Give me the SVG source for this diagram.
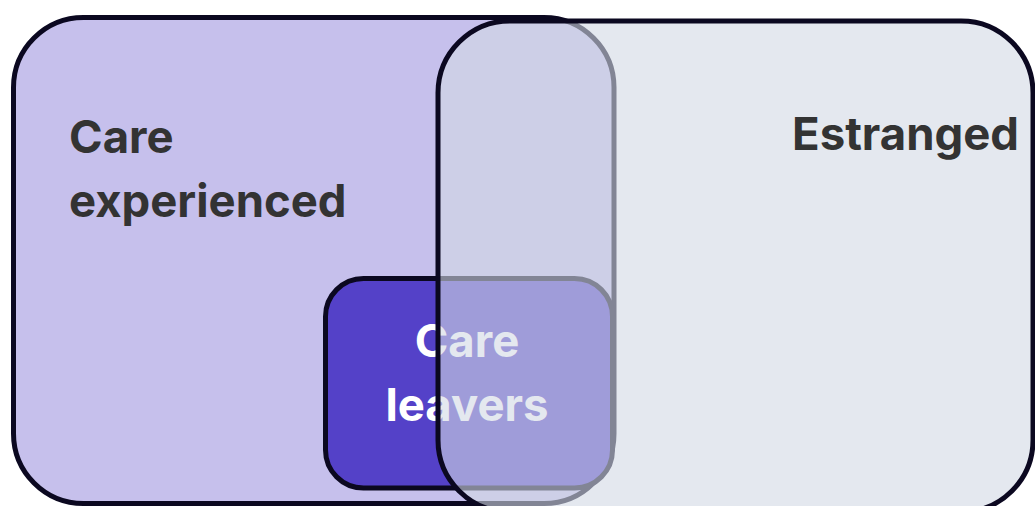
<svg xmlns="http://www.w3.org/2000/svg" width="1035" height="506" viewBox="0 0 1035 506">
  <style>
    .box { stroke: #0b0820; stroke-width: 5; }
    .lbl { font-family: Inter, "Noto Sans", "Liberation Sans", sans-serif; font-weight: 700; font-size: 45.5px; }
    .dark { fill: #333333; }
    .light { fill: #ffffff; }
  </style>
  <rect width="1035" height="506" fill="#ffffff"/>
  <g id="care-experienced">
    <rect class="box" x="13.5" y="17.5" width="600.5" height="486" rx="70" ry="70" fill="#c6c0ec"/>
    <text class="lbl dark" x="69" y="153">Care</text>
    <text class="lbl dark" x="69" y="217">experienced</text>
  </g>
  <g id="care-leavers">
    <rect class="box" x="325.5" y="278.5" width="287" height="209.5" rx="38" ry="38" fill="#5441c8"/>
    <text class="lbl light" x="467" y="357" text-anchor="middle">Care</text>
    <text class="lbl light" x="467" y="421" text-anchor="middle">leavers</text>
  </g>
  <g id="estranged">
    <rect class="box" x="438" y="21" width="595" height="491" rx="72" ry="72" fill="#d2d8e5" fill-opacity="0.6"/>
    <text class="lbl dark" x="1019" y="150" text-anchor="end">Estranged</text>
  </g>
  <g id="connectors"></g>
</svg>
